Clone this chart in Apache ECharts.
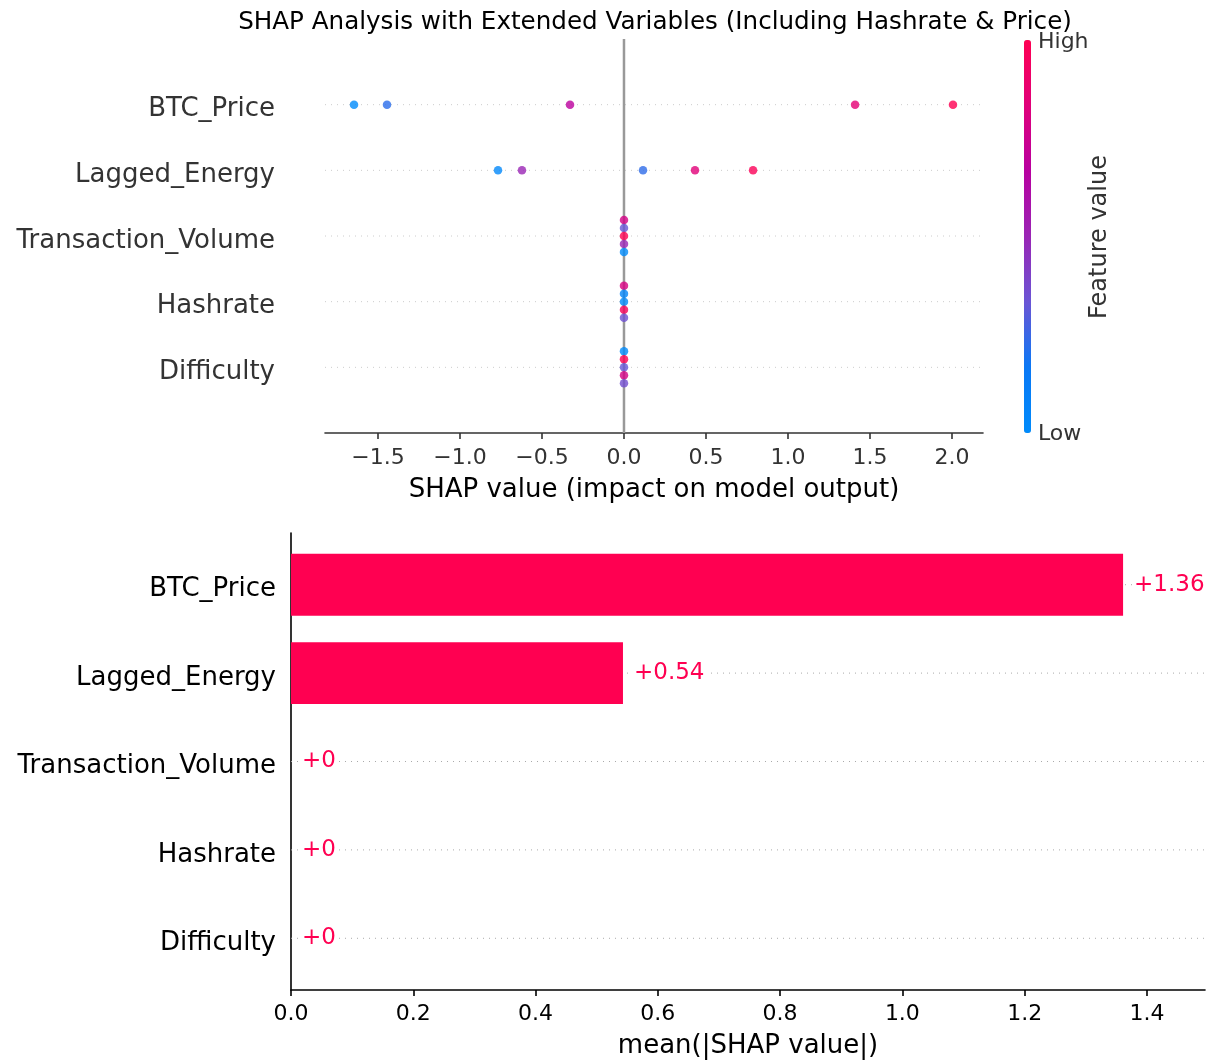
<!DOCTYPE html>
<html>
<head>
<meta charset="utf-8">
<title>SHAP Analysis</title>
<script src="https://cdn.jsdelivr.net/npm/echarts@6/dist/echarts.min.js"></script>
<style>
  html, body { margin: 0; padding: 0; background: #fff; }
  #chart { width: 1214px; height: 1061px; }
</style>
</head>
<body>
<div id="chart"></div>
<script>
// features, top to bottom
const features = ['BTC_Price', 'Lagged_Energy', 'Transaction_Volume', 'Hashrate', 'Difficulty'];

// per-sample SHAP values
const shapBTC = [-1.646, -1.445, -0.329, 1.409, 2.006];
const shapLagged = [-0.768, -0.622, 0.116, 0.433, 0.787];
const shapTx = [0, 0, 0, 0, 0];
const shapHash = [0, 0, 0, 0, 0];
const shapDiff = [0, 0, 0, 0, 0];

// normalised feature values (0 = low, 1 = high), same sample order
const featBTC = [0.0, 0.22, 0.68, 0.86, 1.0];
const featLagged = [0.03, 0.5, 0.23, 0.84, 0.98];
const featTx = [0.78, 0.33, 1.0, 0.5, 0.0];
const featHash = [0.8, 0.05, 0.02, 0.97, 0.35];
const featDiff = [0.0, 1.0, 0.33, 0.78, 0.36];

// mean(|SHAP value|) per feature
const meanAbs = [1.361, 0.543, 0, 0, 0];

// tick labels
const shapTicks = [-1.5, -1.0, -0.5, 0.0, 0.5, 1.0, 1.5, 2.0];
const meanTicks = [0.0, 0.2, 0.4, 0.6, 0.8, 1.0, 1.2, 1.4];

const FONT = '"DejaVu Sans", "Liberation Sans", sans-serif';
const RED = '#ff0051';
const nRows = features.length;
const rowIdx = [0, 1, 2, 3, 4];
// row position on the value axis: top feature gets the highest value
const rowOf = i => nRows - 1 - i;
const nameOf = v => '{n|' + features[nRows - 1 - Math.round(v)] + '}';

// stack dots sharing the same SHAP value around their row (beeswarm)
const STEP = 0.122;
function swarm(vals, feats, row) {
  const groups = {};
  vals.forEach((v, i) => {
    const k = v.toFixed(2);
    (groups[k] = groups[k] || []).push(i);
  });
  const out = [];
  Object.keys(groups).forEach(k => {
    const idx = groups[k];
    idx.forEach((i, n) => {
      out.push([vals[i], row + ((idx.length - 1) / 2 - n) * STEP, feats[i]]);
    });
  });
  return out;
}

const dots = [].concat(
  swarm(shapBTC, featBTC, rowOf(0)),
  swarm(shapLagged, featLagged, rowOf(1)),
  swarm(shapTx, featTx, rowOf(2)),
  swarm(shapHash, featHash, rowOf(3)),
  swarm(shapDiff, featDiff, rowOf(4))
);

const fmtMinus = v => v.toFixed(1).replace('-', '\u2212');
const fmtBar = v => '+' + String(parseFloat(v.toFixed(2)));

const chart = echarts.init(document.getElementById('chart'), null, { renderer: 'canvas' });

const option = {
  animation: false,
  backgroundColor: '#fff',
  title: {
    text: 'SHAP Analysis with Extended Variables (Including Hashrate & Price)',
    left: 650,
    textAlign: 'center',
    top: 5,
    textStyle: { fontFamily: FONT, fontSize: 24.6, fontWeight: 'normal', color: '#000' }
  },
  grid: [
    { left: 325, top: 39, width: 658, height: 394, outerBoundsMode: 'none' },
    { left: 291, top: 533, width: 914, height: 457, outerBoundsMode: 'none' }
  ],
  xAxis: [
    {
      gridIndex: 0,
      type: 'value',
      min: -1.823,
      max: 2.189,
      name: 'SHAP value (impact on model output)',
      nameLocation: 'middle',
      nameGap: 44,
      nameTextStyle: { fontFamily: FONT, fontSize: 26, color: '#000' },
      axisLine: { show: true, onZero: false, lineStyle: { color: '#333', width: 1.6 } },
      axisTick: { show: true, customValues: shapTicks, length: 6, lineStyle: { color: '#333', width: 1.6 } },
      axisLabel: {
        customValues: shapTicks,
        formatter: fmtMinus,
        margin: 14,
        fontFamily: FONT, fontSize: 22, color: '#333'
      },
      splitLine: { show: false }
    },
    {
      gridIndex: 1,
      type: 'value',
      min: 0,
      max: 1.495,
      name: 'mean(|SHAP value|)',
      nameLocation: 'middle',
      nameGap: 43,
      nameTextStyle: { fontFamily: FONT, fontSize: 26, color: '#000' },
      axisLine: { show: true, onZero: false, lineStyle: { color: '#000', width: 1.6 } },
      axisTick: { show: true, customValues: meanTicks, length: 6, lineStyle: { color: '#000', width: 1.6 } },
      axisLabel: {
        customValues: meanTicks,
        formatter: v => v.toFixed(1),
        margin: 13,
        fontFamily: FONT, fontSize: 22, color: '#000'
      },
      splitLine: { show: false }
    }
  ],
  yAxis: [
    {
      gridIndex: 0,
      type: 'value',
      min: -1,
      max: 5,
      axisLine: { show: false },
      axisTick: { show: false },
      axisLabel: {
        customValues: rowIdx,
        formatter: nameOf,
        margin: 50,
        rich: { n: { fontFamily: FONT, fontSize: 26, color: '#333', padding: [10, 0, 0, 0] } }
      },
      splitLine: { show: false }
    },
    {
      gridIndex: 1,
      type: 'value',
      min: -0.585,
      max: 4.585,
      axisLine: { show: true, onZero: false, lineStyle: { color: '#000', width: 1.6 } },
      axisTick: { show: false },
      axisLabel: {
        customValues: rowIdx,
        formatter: nameOf,
        margin: 15,
        rich: { n: { fontFamily: FONT, fontSize: 26, color: '#000', padding: [10, 0, 0, 0] } }
      },
      splitLine: { show: false }
    }
  ],
  visualMap: {
    type: 'continuous',
    seriesIndex: 2,
    dimension: 2,
    min: 0,
    max: 1,
    calculable: false,
    show: true,
    left: 1024,
    top: 40,
    padding: 0,
    itemWidth: 7,
    itemHeight: 393,
    text: null,
    inRange: {
      color: ['#008bfb', '#0a78f5', '#6a55d5', '#9a25b5', '#b800a0', '#e0007a', '#ff0052']
    }
  },
  graphic: [
    { type: 'text', left: 1038, top: 31, style: { text: 'High', font: '22px ' + FONT, fill: '#333' } },
    { type: 'text', left: 1038, top: 423, style: { text: 'Low', font: '22px ' + FONT, fill: '#333' } },
    {
      type: 'text', x: 1100, y: 237, rotation: Math.PI / 2,
      style: { text: 'Feature value', font: '24px ' + FONT, fill: '#333', align: 'center', verticalAlign: 'middle' }
    }
  ],
  series: [
    {
      // dotted row guides
      type: 'custom',
      xAxisIndex: 0,
      yAxisIndex: 0,
      z: 1,
      silent: true,
      data: rowIdx.map(i => [0, rowOf(i)]),
      renderItem: (params, api) => {
        const cs = params.coordSys;
        const y = api.coord([0, api.value(1)])[1];
        return {
          type: 'line',
          shape: { x1: cs.x, y1: y, x2: cs.x + cs.width, y2: y },
          style: { stroke: '#cccccc', lineWidth: 1, lineDash: [1, 5] }
        };
      }
    },
    {
      // zero line
      type: 'line',
      xAxisIndex: 0,
      yAxisIndex: 0,
      z: 1,
      silent: true,
      symbol: 'none',
      data: [[0, -1], [0, 5]],
      lineStyle: { color: '#999', width: 2.5 }
    },
    {
      type: 'scatter',
      xAxisIndex: 0,
      yAxisIndex: 0,
      z: 3,
      symbolSize: 8.5,
      data: dots
    },
    {
      type: 'custom',
      xAxisIndex: 1,
      yAxisIndex: 1,
      z: 2,
      data: meanAbs.map((v, i) => [v, rowOf(i)]),
      renderItem: (params, api) => {
        const cs = params.coordSys;
        const v = api.value(0);
        const row = api.value(1);
        const start = api.coord([0, row]);
        const end = api.coord([v, row]);
        const h = api.size([0, 0.7])[1];
        return {
          type: 'group',
          children: [
            {
              type: 'line',
              shape: { x1: cs.x, y1: start[1], x2: cs.x + cs.width, y2: start[1] },
              style: { stroke: '#aaaaaa', lineWidth: 1, lineDash: [1, 5] }
            },
            {
              type: 'rect',
              shape: { x: start[0], y: start[1] - h / 2, width: end[0] - start[0], height: h },
              style: { fill: RED }
            },
            {
              type: 'text',
              x: end[0] + 9,
              y: end[1],
              style: {
                text: fmtBar(v), fill: RED, font: '23px ' + FONT,
                align: 'left', verticalAlign: 'middle',
                backgroundColor: '#fff', padding: [0, 2]
              }
            }
          ]
        };
      }
    }
  ]
};

chart.setOption(option);
</script>
</body>
</html>
